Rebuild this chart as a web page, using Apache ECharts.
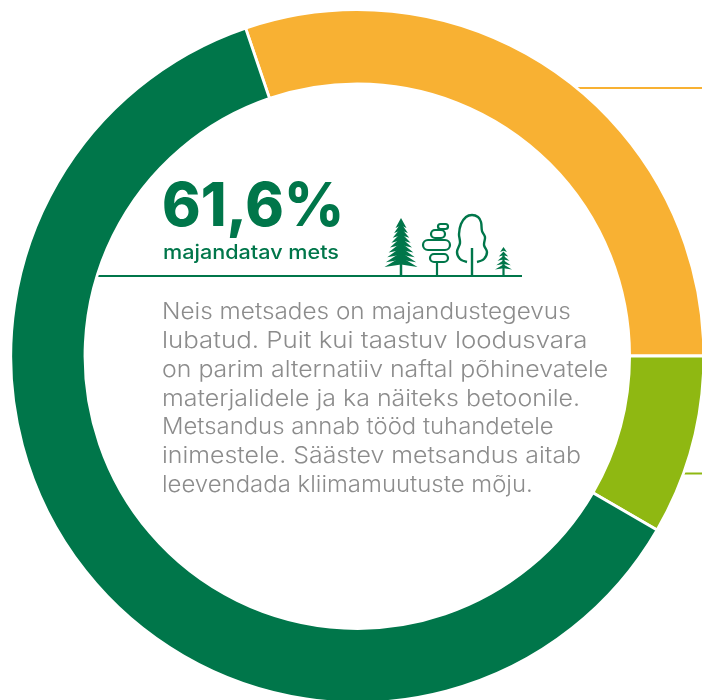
<!DOCTYPE html>
<html><head><meta charset="utf-8">
<style>html,body{margin:0;padding:0;background:#fff}#c{width:702px;height:700px}</style>
<script src="https://cdn.jsdelivr.net/npm/echarts@6/dist/echarts.min.js"></script>
</head><body><div id="c"></div>
<script>
const categories = ['Kaitsealused metsad', 'Hoiumetsad', 'Majandatav mets'];
const shares = [30.3, 8.4, 61.6];
const sliceColors = ['#f8b133', '#8fb812', '#00764a'];
const headline = '61,6%';
const subtitle = 'majandatav mets';
const bodyLines = [
  'Neis metsades on majandustegevus',
  'lubatud. Puit kui taastuv loodusvara',
  'on parim alternatiiv naftal põhinevatele',
  'materjalidele ja ka näiteks betoonile.',
  'Metsandus annab tööd tuhandetele',
  'inimestele. Säästev metsandus aitab',
  'leevendada kliimamuutuste mõju.'
];
const GREEN = '#00764a';
// horizontal stretch per body line, to match the reference's wider typeface
const lineStretch = [1.057, 1.123, 1.082, 1.085, 1.038, 1.083, 1.041];
function spruce(cx, top, h, w, lw, tiers) {
  const kids = [];
  for (let i = 0; i < tiers; i++) {
    const t0 = top + h * i / tiers * 0.88;
    const t = (i + 1) / tiers;
    const half = w / 2 * (0.25 + 0.75 * t);
    kids.push({type:'polygon', shape:{points:[[cx, t0],[cx + half, t0 + h * 0.2],[cx, t0 + h * 0.15],[cx - half, t0 + h * 0.2]]}, style:{fill:GREEN}, silent:true});
  }
  kids.push({type:'line', shape:{x1:cx,y1:top + h*0.3,x2:cx,y2:276}, style:{stroke:GREEN,lineWidth:lw}, silent:true});
  return kids;
}
function pill(x0, y0, x1, y1) {
  return {type:'rect', shape:{x:x0,y:y0,width:x1-x0,height:y1-y0,r:(y1-y0)/2}, style:{fill:'#fff',stroke:GREEN,lineWidth:2.2}, silent:true};
}
const crown = [[467,262],[460,259],[457,252],[460,243],[459,234],[461,224],[466,217],[472,215],[478,217],[481,222],[482,231],[485,237],[484,245],[487,252],[484,259],[477,262]];
const graphics = [
  {type:'line', shape:{x1:577,y1:88,x2:702,y2:88}, style:{stroke:sliceColors[0],lineWidth:2}, silent:true},
  {type:'line', shape:{x1:682,y1:473.5,x2:702,y2:473.5}, style:{stroke:sliceColors[1],lineWidth:2}, silent:true},
  {type:'line', shape:{x1:97,y1:276,x2:522,y2:276}, style:{stroke:GREEN,lineWidth:2}, silent:true},
  {type:'text', x:162, y:208, scaleX:0.975, style:{text:headline, fontFamily:'Inter', fontWeight:800, fontSize:60, fill:GREEN, verticalAlign:'middle'}, silent:true},
  {type:'text', x:163, y:253, scaleX:1.08, style:{text:subtitle, fontFamily:'Inter', fontWeight:500, fontSize:20, fill:GREEN, verticalAlign:'middle'}, silent:true},
  ...bodyLines.map((t, i) => ({type:'text', x:162, y:312.5 + i * 28.7, scaleX:lineStretch[i], style:{text:t, fontFamily:'Inter', fontWeight:300, fontSize:23, fill:'#8c8c8c', verticalAlign:'middle'}, silent:true})),
  ...spruce(401, 218, 50, 33, 2.5, 9),
  {type:'line', shape:{x1:437,y1:262,x2:437,y2:276}, style:{stroke:GREEN,lineWidth:2.2}, silent:true},
  pill(430, 254, 448, 262), pill(423, 240, 450, 250), pill(431, 230, 445, 238), pill(438, 224, 448, 229),
  {type:'polyline', shape:{points:crown, smooth:0.35}, style:{fill:'none',stroke:GREEN,lineWidth:2.4}, silent:true},
  {type:'line', shape:{x1:472,y1:248,x2:472,y2:276}, style:{stroke:GREEN,lineWidth:2.4}, silent:true},
  ...spruce(503.5, 247, 25, 17, 2.2, 5)
];
const chart = echarts.init(document.getElementById('c'), null, {renderer:'canvas'});
chart.setOption({
  animation:false,
  series:[{
    type:'pie', center:[357.3,356.2], radius:[272.3,346.5], startAngle:108.8, clockwise:true,
    silent:true, label:{show:false}, labelLine:{show:false},
    itemStyle:{borderColor:'#fff', borderWidth:2.8},
    data:categories.map((n,i)=>({name:n,value:shares[i],itemStyle:{color:sliceColors[i]}}))
  }],
  graphic:{elements:graphics}
});
</script></body></html>
